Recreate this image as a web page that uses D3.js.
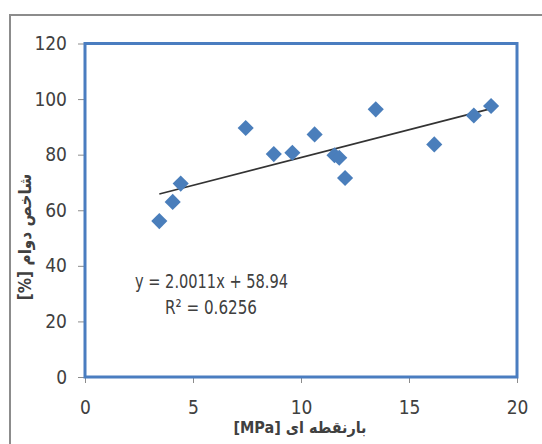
<!DOCTYPE html>
<html><head><meta charset="utf-8">
<script src="https://cdn.jsdelivr.net/npm/d3@7"></script>
<style>
body{margin:0;background:#fff;}
svg{display:block;}
text{font-family:"Liberation Sans Narrow","DejaVu Sans Condensed","Arial Narrow",sans-serif;fill:#404040;}
</style></head><body>
<script>
const xValues = [3.44, 4.06, 4.43, 7.44, 8.74, 9.60, 10.63, 11.55, 11.77, 12.04, 13.46, 16.17, 18.0, 18.8];
const yValues = [56.1, 63.0, 69.6, 89.6, 80.2, 80.7, 87.3, 79.8, 78.9, 71.6, 96.3, 83.7, 94.1, 97.5];
const xTicks = [0, 5, 10, 15, 20];
const yTicks = [0, 20, 40, 60, 80, 100, 120];
const trendSlope = 2.0011;
const trendIntercept = 58.94;
const equationLines = ["y = 2.0011x + 58.94", "R² = 0.6256"];
const xTitle = "بارنقطه ای [MPa]";
const yTitle = "شاخص دوام [%]";

const W = 542, H = 444;
const svg = d3.select("body").append("svg").attr("width", W).attr("height", H);

// outer chart frame
svg.append("rect").attr("x", 10).attr("y", 15).attr("width", 560).attr("height", 460)
  .attr("fill", "none").attr("stroke", "#8c8c8c").attr("stroke-width", 2);

const x = d3.scaleLinear().domain([0, 20]).range([85, 517]);
const y = d3.scaleLinear().domain([0, 120]).range([377, 43.5]);

// axes (ticks and labels)
const xAxis = svg.append("g").attr("transform", `translate(0,${y(0)})`)
  .call(d3.axisBottom(x).tickValues(xTicks).tickSize(6).tickPadding(18));
const yAxis = svg.append("g").attr("transform", `translate(${x(0)},0)`)
  .call(d3.axisLeft(y).tickValues(yTicks).tickSize(7).tickPadding(11));
[xAxis, yAxis].forEach(g => {
  g.select(".domain").remove();
  g.selectAll(".tick line").attr("stroke", "#8c8c8c").attr("stroke-width", 1);
  g.selectAll(".tick text").style("font-size", "19px").attr("fill", "#404040")
    .style("font-family", '"Liberation Sans Narrow","DejaVu Sans Condensed",sans-serif');
});

// plot area border
svg.append("rect").attr("x", x(0)).attr("y", y(120))
  .attr("width", x(20) - x(0)).attr("height", y(0) - y(120))
  .attr("fill", "none").attr("stroke", "#4a7dc0").attr("stroke-width", 3);

// trend line
const xMin = d3.min(xValues), xMax = d3.max(xValues);
svg.append("line")
  .attr("x1", x(xMin)).attr("y1", y(trendSlope * xMin + trendIntercept))
  .attr("x2", x(xMax)).attr("y2", y(trendSlope * xMax + trendIntercept))
  .attr("stroke", "#333").attr("stroke-width", 1.6);

// points
const sym = d3.symbol().type(d3.symbolSquare).size(130);
svg.append("g").selectAll("path").data(xValues.map((v, i) => [v, yValues[i]])).join("path")
  .attr("d", sym)
  .attr("transform", d => `translate(${x(d[0])},${y(d[1])}) rotate(45)`)
  .attr("fill", "#4a7ebb");

// equation
svg.append("text").attr("x", 135).attr("y", 288)
  .attr("textLength", 153).attr("lengthAdjust", "spacingAndGlyphs")
  .style("font-size", "20px").text(equationLines[0]);
svg.append("text").attr("x", 165).attr("y", 314)
  .attr("textLength", 92).attr("lengthAdjust", "spacingAndGlyphs")
  .style("font-size", "20px").text(equationLines[1]);

// axis titles
svg.append("text").attr("x", 300).attr("y", 433).attr("text-anchor", "middle")
  .attr("direction", "rtl").style("unicode-bidi", "embed")
  .style("font-family", '"DejaVu Sans Condensed","Noto Sans",sans-serif')
  .style("font-weight", "bold").style("font-size", "16px").attr("fill", "#222")
  .text(xTitle);
svg.append("text").attr("transform", "translate(31,237) rotate(-90)")
  .attr("text-anchor", "middle").attr("direction", "rtl").style("unicode-bidi", "embed")
  .style("font-family", '"DejaVu Sans Condensed","Noto Sans",sans-serif')
  .style("font-weight", "bold").style("font-size", "17px").attr("fill", "#222")
  .text(yTitle);
</script>
</body></html>
